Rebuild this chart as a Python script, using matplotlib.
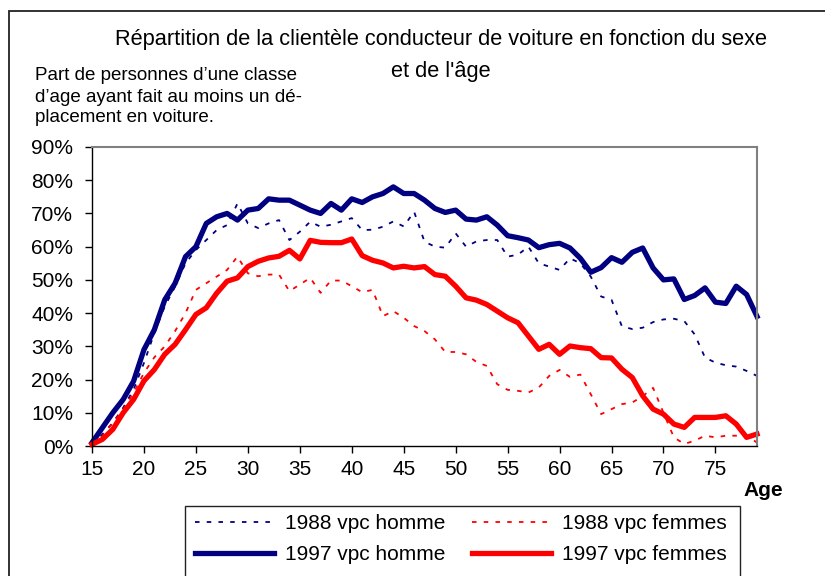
import matplotlib
matplotlib.use("Agg")
import matplotlib.pyplot as plt
import matplotlib.patches as patches
from matplotlib.ticker import PercentFormatter

plt.rcParams['font.family'] = ['Liberation Sans', 'DejaVu Sans']

# categories (age)
ages = list(range(15, 80))

# 1988 vpc homme (%)
homme_1988 = [0.5, 3.5, 7, 11.5, 17, 25, 34, 42, 48, 55,
              59, 62, 65, 66.5, 73, 67, 65.6, 67, 68, 62,
              64.5, 67.5, 66, 66.6, 67.6, 68.6, 65, 65.1, 66, 67.6,
              66.1, 70.5, 61.5, 60, 59.7, 64, 60, 61.6, 62, 62,
              57, 57.6, 60, 55, 54, 53, 56.5, 55, 51, 45,
              44, 36, 35.2, 35.6, 37.3, 38.1, 38.3, 37.6, 33.6, 26.6,
              25.1, 24.3, 23.9, 22.6, 21.1]

# 1988 vpc femmes (%)
femmes_1988 = [0.5, 3, 7, 11, 16, 22, 26.7, 30, 34.6, 40,
               47, 49, 51, 53, 57, 52, 51.1, 51.6, 51.6, 46.6,
               48.6, 50.6, 46.1, 49.8, 49.8, 48.1, 46.3, 47, 39.1, 40.6,
               38.6, 36.1, 34.6, 32.1, 28.3, 28.3, 27.6, 25.3, 24.1, 18.6,
               16.9, 16.6, 16.1, 17.6, 21.1, 22.9, 20.8, 21.5, 15.6, 9.6,
               11.1, 12.6, 13.1, 15, 17.5, 10, 2.6, 0.6, 1.6, 3.1,
               2.6, 3.1, 3.1, 3.3, 1]

# 1997 vpc homme (%)
homme_1997 = [1, 5.5, 10, 14, 19.5, 29, 35, 44, 49, 57,
              60, 67, 69, 70, 68, 71, 71.5, 74.4, 74, 74,
              72.5, 71, 70, 73, 71, 74.4, 73.3, 75, 76, 78,
              76, 76, 74, 71.5, 70.3, 71, 68.3, 68, 69, 66.5,
              63.3, 62.7, 62, 59.7, 60.6, 61, 59.6, 56.5, 52.3, 53.7,
              56.7, 55.3, 58.3, 59.6, 53.6, 50, 50.3, 44.1, 45.3, 47.6,
              43.3, 42.9, 48.1, 45.6, 39]

# 1997 vpc femmes (%)
femmes_1997 = [0.5, 2, 5, 10, 14, 19.6, 23, 27.6, 30.6, 35,
               39.6, 41.6, 46, 49.6, 50.6, 54, 55.6, 56.6, 57.1, 58.9,
               56.3, 61.9, 61.3, 61.2, 61.2, 62.3, 57.3, 55.9, 55.1, 53.6,
               54.1, 53.6, 54, 51.6, 51.1, 48.1, 44.6, 43.9, 42.6, 40.6,
               38.6, 37.1, 33.1, 29.1, 30.6, 27.6, 30.1, 29.6, 29.3, 26.6,
               26.5, 23.1, 20.6, 15.1, 11.1, 9.6, 6.6, 5.6, 8.6, 8.6,
               8.6, 9.1, 6.6, 2.6, 3.6]

x_ticks = [15, 20, 25, 30, 35, 40, 45, 50, 55, 60, 65, 70, 75]
y_ticks = [0, 10, 20, 30, 40, 50, 60, 70, 80, 90]

navy = '#000080'
red = '#ff0000'
W, H = 825, 576

fig = plt.figure(figsize=(W / 100, H / 100), dpi=100)
ax = fig.add_axes([92 / W, 1 - 446 / H, (757 - 92) / W, (446 - 147) / H])

dots = (0, (2.5, 4))
l1, = ax.plot(ages, homme_1988, color=navy, lw=1.3, ls=dots, clip_on=False)
l2, = ax.plot(ages, femmes_1988, color=red, lw=1.3, ls=dots, clip_on=False)
l3, = ax.plot(ages, homme_1997, color=navy, lw=3.8, solid_joinstyle='round',
              clip_on=False)
l4, = ax.plot(ages, femmes_1997, color=red, lw=3.8, solid_joinstyle='round',
              clip_on=False)

ax.set_xlim(15, 79)
ax.set_ylim(0, 90)
ax.set_xticks(x_ticks)
ax.set_yticks(y_ticks)
ax.yaxis.set_major_formatter(PercentFormatter(100, decimals=0))
ax.tick_params(direction='out', length=5, width=1, labelsize=15)
ax.tick_params(axis='y', pad=8.5)
ax.tick_params(axis='x', pad=5)
for s in ['left', 'bottom']:
    ax.spines[s].set_color('black')
    ax.spines[s].set_linewidth(1)
for s in ['top', 'right']:
    ax.spines[s].set_color('#808080')
    ax.spines[s].set_linewidth(1.5)

# titles
fig.text(441 / W, 1 - 40 / H, "Répartition de la clientèle conducteur de voiture en fonction du sexe",
         ha='center', va='center', fontsize=15.7)
fig.text(441 / W, 1 - 72 / H, "et de l'âge", ha='center', va='center', fontsize=15.7)
for i, line in enumerate(["Part de personnes d\u2019une classe",
                          "d\u2019age ayant fait au moins un dé-",
                          "placement en voiture."]):
    fig.text(35 / W, 1 - (76 + 21 * i) / H, line, ha='left', va='center', fontsize=13.5)

fig.text(763 / W, 1 - 490 / H, "Age", ha='center', va='center', fontsize=15,
         fontweight='bold')

# outer frame and legend box
fig.patches.append(patches.Rectangle((9 / W, -0.2), 2, 1.2 - 11 / H,
                                     transform=fig.transFigure, fill=False,
                                     edgecolor='#222222', lw=1.3))
fig.patches.append(patches.Rectangle((185 / W, -0.2), (740 - 185) / W, 0.2 + 1 - 506 / H,
                                     transform=fig.transFigure, fill=False,
                                     edgecolor='#222222', lw=1))

fig.legend([l1, l3, l2, l4],
           ["1988 vpc homme", "1997 vpc homme", "1988 vpc femmes", "1997 vpc femmes"],
           ncol=2, loc='upper left', bbox_to_anchor=(195 / W, 1 - 514 / H),
           frameon=False, fontsize=15, handlelength=3.8, handletextpad=0.5,
           columnspacing=1.3, labelspacing=0.6, borderpad=0, borderaxespad=0)

fig.savefig("out.png", dpi=100)
